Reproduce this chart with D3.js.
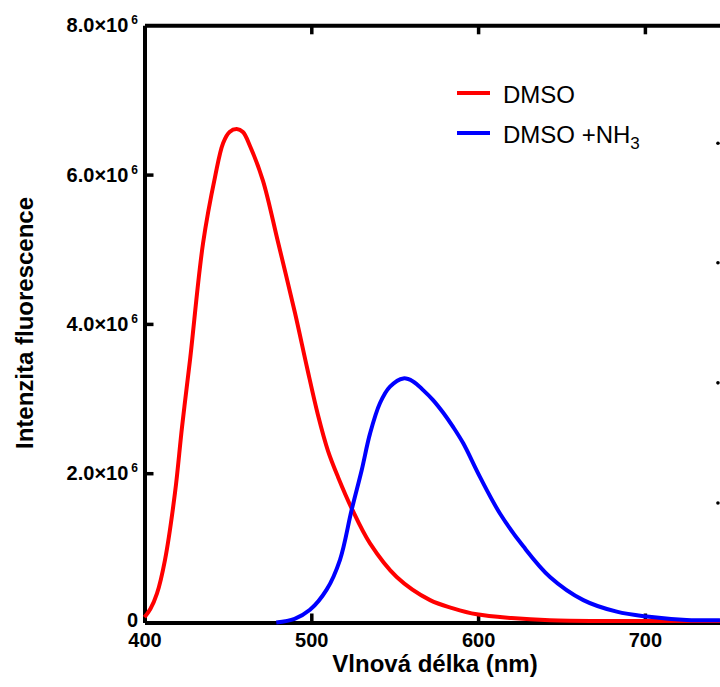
<!DOCTYPE html>
<html>
<head>
<meta charset="utf-8">
<script src="https://cdn.jsdelivr.net/npm/d3@7"></script>
<style>
  body { margin: 0; background: #fff; }
  svg { display: block; font-family: "Liberation Sans", Arial, sans-serif; }
</style>
</head>
<body>
<svg id="chart" width="720" height="687"></svg>
<script>
// spectra, intensity in units of 1e6
const redNm  = [400, 403.5, 407.5, 412.3, 418.3, 422.5, 427.3, 435.1, 442.3, 447.1, 451, 455.3, 459, 463.3, 471, 480, 490.2, 497.4, 504, 510, 516, 524.2, 535.2, 551.2, 571.2, 585, 599.2, 620, 643, 680, 745];
const redVal = [0.07, 0.18, 0.39, 0.84, 1.74, 2.62, 3.52, 5.08, 5.97, 6.42, 6.57, 6.61, 6.57, 6.38, 5.92, 5.1, 4.15, 3.42, 2.78, 2.3, 1.95, 1.53, 1.06, 0.61, 0.30, 0.19, 0.11, 0.06, 0.03, 0.02, 0.02];

const blueNm  = [479, 490, 499.2, 509.2, 517.2, 524.2, 530.2, 535.2, 541.2, 547.2, 555.2, 561, 567.2, 573, 579.1, 585, 591.1, 601.1, 613.1, 627.1, 643.1, 663.1, 683.1, 701.1, 725, 745];
const blueVal = [0.0, 0.05, 0.17, 0.44, 0.84, 1.51, 2.04, 2.53, 2.94, 3.16, 3.27, 3.23, 3.11, 2.98, 2.81, 2.62, 2.40, 1.95, 1.46, 1.02, 0.61, 0.30, 0.145, 0.08, 0.035, 0.03];

const seriesNames = ["DMSO", "DMSO +NH"];
const xTicks = [400, 500, 600, 700];
const yTicks = [0, 2, 4, 6, 8];

// stray dots of a neighbouring panel at the right edge
const edgeDotsNm = 743.8;
const edgeDotsVal = [6.42, 4.82, 3.21, 1.6];

const svg = d3.select("#chart");

const x = d3.scaleLinear().domain([400, 800]).range([144.5, 144.5 + 400 * 1.668]);
const y = d3.scaleLinear().domain([0, 8]).range([622.5, 25.3]);

function styleAxis(g) {
  g.select(".domain").attr("stroke", "#000").attr("stroke-width", 4);
  g.selectAll(".tick line").attr("stroke", "#000").attr("stroke-width", 3.5);
  g.selectAll(".tick text")
    .attr("fill", "#000")
    .attr("font-size", 20)
    .attr("font-weight", "bold")
    .attr("font-family", "'Liberation Sans', Arial, sans-serif");
}

// top frame line
svg.append("g")
  .attr("transform", `translate(0,${y(8)})`)
  .call(d3.axisTop(x).tickValues([500, 600, 700]).tickSize(-9).tickSizeOuter(0).tickFormat(""))
  .call(styleAxis);

// bottom axis
svg.append("g")
  .attr("transform", `translate(0,${y(0)})`)
  .call(d3.axisBottom(x).tickValues(xTicks).tickSize(-9).tickSizeOuter(0).tickPadding(10.5))
  .call(styleAxis)
  .call(g => g.selectAll(".tick").filter(d => d === 400).select("line").remove());

// left axis
const yAxis = svg.append("g")
  .attr("transform", `translate(${x(400)},0)`)
  .call(d3.axisLeft(y).tickValues(yTicks).tickSize(-9).tickSizeOuter(0).tickPadding(6.5))
  .call(styleAxis);

yAxis.selectAll(".tick").filter(d => d === 0 || d === 8).select("line").remove();
yAxis.selectAll(".tick text").each(function(d) {
  const t = d3.select(this).text("");
  if (d === 0) { t.attr("dy", "0.18em").text("0"); return; }
  t.append("tspan").text(d.toFixed(1) + "×10");
  t.append("tspan").attr("dx", 3).attr("dy", -8).attr("font-size", 12).text("6");
});

// curves
const line = d3.line()
  .x(d => x(d[0]))
  .y(d => y(d[1]))
  .curve(d3.curveCatmullRom.alpha(0.5));

svg.append("path")
  .datum(d3.zip(redNm, redVal))
  .attr("fill", "none")
  .attr("stroke", "#ff0000")
  .attr("stroke-width", 4)
  .attr("stroke-linejoin", "round")
  .attr("d", line);

svg.append("path")
  .datum(d3.zip(blueNm, blueVal))
  .attr("fill", "none")
  .attr("stroke", "#0000ff")
  .attr("stroke-width", 4)
  .attr("stroke-linejoin", "round")
  .attr("d", line);

svg.selectAll("circle.edge")
  .data(edgeDotsVal)
  .join("circle")
  .attr("class", "edge")
  .attr("cx", x(edgeDotsNm))
  .attr("cy", d => y(d))
  .attr("r", 1.8)
  .attr("fill", "#000");

// legend
const legend = svg.append("g");
const colors = ["#ff0000", "#0000ff"];
const legendY = [93, 133];
seriesNames.forEach((name, i) => {
  legend.append("line")
    .attr("x1", 457).attr("x2", 490)
    .attr("y1", legendY[i]).attr("y2", legendY[i])
    .attr("stroke", colors[i]).attr("stroke-width", 4);
  const t = legend.append("text")
    .attr("x", 503).attr("y", legendY[i] + 9.5)
    .attr("font-size", 24)
    .attr("fill", "#000")
    .text(name);
  if (i === 1) {
    t.append("tspan").attr("dy", 6).attr("font-size", 17).text("3");
  }
});

// axis titles
svg.append("text")
  .attr("x", 435).attr("y", 672)
  .attr("text-anchor", "middle")
  .attr("font-size", 24)
  .attr("font-weight", "bold")
  .text("Vlnová délka (nm)");

svg.append("text")
  .attr("transform", "translate(33,323) rotate(-90)")
  .attr("text-anchor", "middle")
  .attr("font-size", 24)
  .attr("font-weight", "bold")
  .text("Intenzita fluorescence");
</script>
</body>
</html>
